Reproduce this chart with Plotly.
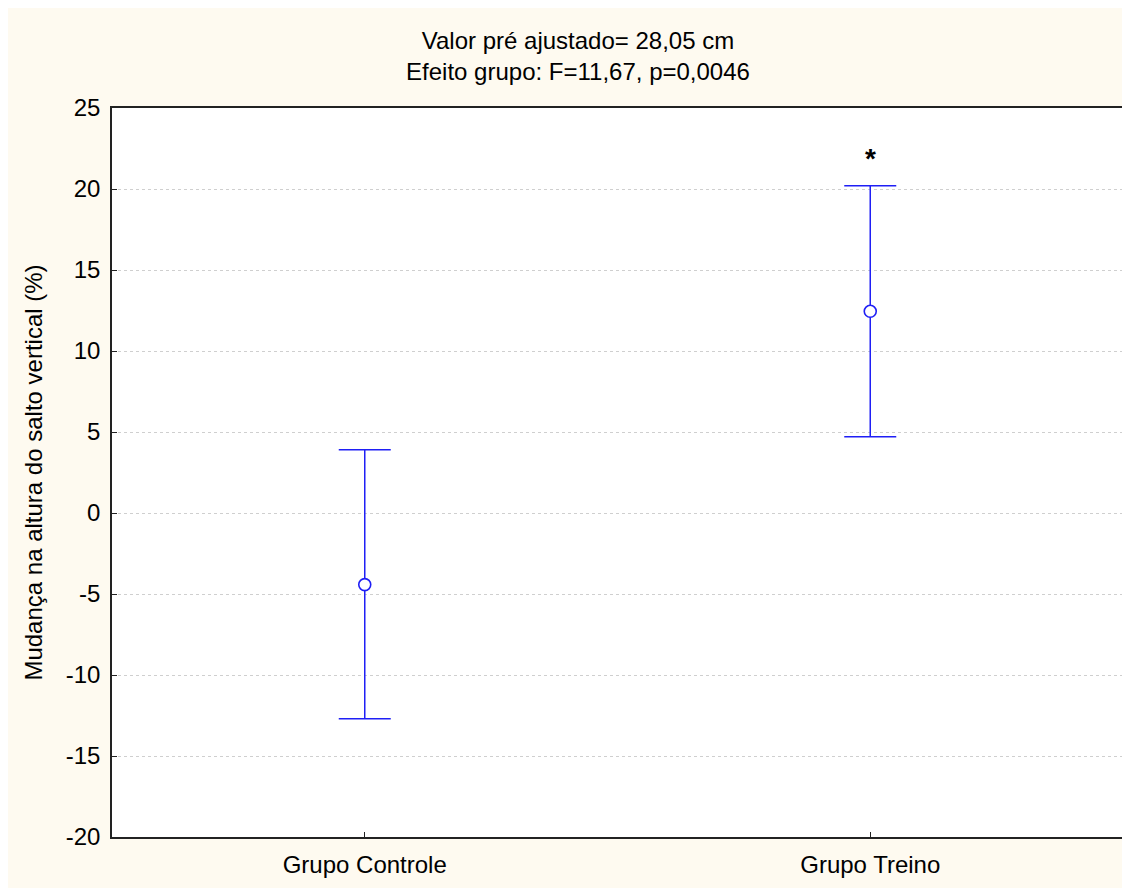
import plotly.graph_objects as go

categories = ["Grupo Controle", "Grupo Treino"]
means = [-4.42, 12.45]
ci_upper = [3.9, 20.2]
ci_lower = [-12.7, 4.7]
y_ticks = [-20, -15, -10, -5, 0, 5, 10, 15, 20, 25]
y_tick_labels = [str(v) for v in y_ticks]

err_plus = [u - m for u, m in zip(ci_upper, means)]
err_minus = [m - l for m, l in zip(means, ci_lower)]

blue = "#1f1ff5"
font_family = "Liberation Sans, Arial, sans-serif"

fig = go.Figure()
fig.add_trace(go.Scatter(
    x=categories, y=means, mode="markers",
    marker=dict(symbol="circle", size=12, color="white",
                line=dict(color=blue, width=1.6)),
    error_y=dict(type="data", symmetric=False, array=err_plus,
                 arrayminus=err_minus, color=blue, thickness=1.5, width=26),
    showlegend=False,
))

fig.add_annotation(x=categories[1], y=ci_upper[1], yshift=27, text="<b>*</b>",
                   showarrow=False, font=dict(size=28, color="black", family=font_family))

fig.update_layout(
    width=1130, height=888,
    paper_bgcolor="#fefaf0", plot_bgcolor="white",
    margin=dict(l=104, r=15, t=100, b=59),
    font=dict(family=font_family, color="black", size=24),
    title=dict(text="Valor pré ajustado= 28,05 cm<br>Efeito grupo: F=11,67, p=0,0046",
               x=570/1130, xanchor="center", y=1 - 40.5/888, yanchor="middle",
               font=dict(size=24)),
)
fig.update_xaxes(
    type="category", range=[-0.5, 1.5],
    showline=True, linecolor="#222", linewidth=1.5, mirror=True,
    ticks="inside", ticklen=5, tickcolor="#222", showgrid=False,
    tickfont=dict(size=24), ticklabelstandoff=5,
)
fig.update_yaxes(
    range=[-20, 25], tickvals=y_ticks, ticktext=y_tick_labels,
    showline=True, linecolor="#222", linewidth=1.5, mirror=True,
    ticks="inside", ticklen=5, tickcolor="#222",
    showgrid=True, gridcolor="#cfcfcf", griddash="dot", gridwidth=1,
    zeroline=False, tickfont=dict(size=24), ticklabelstandoff=5,
    title=dict(text="Mudança na altura do salto vertical (%)", font=dict(size=24), standoff=16),
)

fig.write_html("out.html")
